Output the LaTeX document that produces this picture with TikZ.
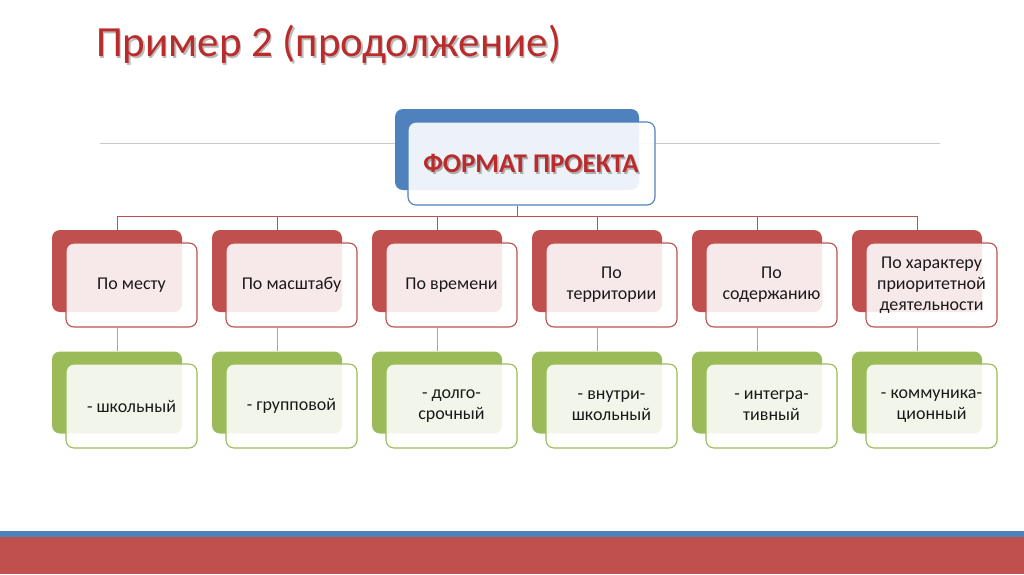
\documentclass[tikz,border=0pt]{standalone}
\usepackage{fontspec}
\setmainfont{Carlito}
\definecolor{accRed}{HTML}{C0504D}
\definecolor{accGreen}{HTML}{9BBB59}
\definecolor{accBlue}{HTML}{4F81BD}
\definecolor{titleRed}{RGB}{186,44,44}
\definecolor{lineGray}{HTML}{C8C8C8}
\definecolor{txt}{HTML}{1A1A1A}
\tikzset{
  backbox/.style={rounded corners=8pt, inner sep=0pt, minimum width=130pt, minimum height=82pt, draw=none},
  frontbox/.style={rounded corners=8pt, inner sep=0pt, minimum width=131pt, minimum height=84pt, line width=1.1pt, fill=white, fill opacity=0.88, text opacity=1, align=center, font=\fontsize{18}{21}\selectfont, text=txt},
  redback/.style={backbox, fill=accRed},
  greenback/.style={backbox, fill=accGreen},
  redfront/.style={frontbox, draw=accRed},
  greenfront/.style={frontbox, draw=accGreen},
  redlink/.style={draw=accRed, line width=1pt},
  greenlink/.style={draw=accGreen, line width=1pt},
}
\begin{document}
\begin{tikzpicture}[x=1pt,y=-1pt]
\useasboundingbox (0,0) rectangle (1024,574);
% bottom stripes
\fill[accBlue] (0,531) rectangle (1024,537);
\fill[accRed] (0,537) rectangle (1024,574);
% title
\node[font=\fontsize{43}{45}\selectfont, text=black!45, opacity=0.6] (titleshadow) at (330,46.5) {Пример 2 (продолжение)};
\node[font=\fontsize{43}{45}\selectfont, text=titleRed] (title) at (328.5,44.5) {Пример 2 (продолжение)};
% gray line
\coordinate (gl) at (100,143);
\coordinate (gr) at (940,143);
\draw[lineGray, line width=0.8pt] (gl) -- (gr);
% top box
\node[rounded corners=8pt, fill=accBlue, inner sep=0pt, minimum width=244pt, minimum height=81pt] (topback) at (517,149.5) {};
\node[rounded corners=8pt, draw=accBlue, line width=1.1pt, fill=white, fill opacity=0.9, inner sep=0pt, minimum width=247pt, minimum height=83pt] (topfront) at (531.5,163.5) {};
\node[font=\bfseries\fontsize{27}{29}\selectfont, text=black!50, opacity=0.6] (topshadow) at (532.5,165) {ФОРМАТ ПРОЕКТА};
\node[font=\bfseries\fontsize{27}{29}\selectfont, text=titleRed] (toptext) at (531,163) {ФОРМАТ ПРОЕКТА};
% columns
\foreach \i/\rt/\gt in {
  1/{По месту}/{- школьный},
  2/{По масштабу}/{- групповой},
  3/{По времени}/{- долго-\\срочный},
  4/{По\\территории}/{- внутри-\\школьный},
  5/{По\\содержанию}/{- интегра-\\тивный},
  6/{По характеру\\приоритетной\\деятельности}/{- коммуника-\\ционный}} {
  \pgfmathsetmacro{\cx}{117+160*(\i-1)}
  \node[redback] (rb\i) at (\cx,271) {};
  \node[greenback] (gb\i) at (\cx,392.5) {};
  \node[redfront] (rf\i) at (\cx+14.5,285) {\rt};
  \node[greenfront] (gf\i) at (\cx+14.5,406) {\gt};
}
% connectors
\coordinate (bus) at (517,216);
\draw[redlink] (topfront.south -| topback.south) -- (bus);
\draw[redlink] (rb1.north |- bus) -- (rb6.north |- bus);
\foreach \i in {1,...,6} {
  \draw[redlink] (rb\i.north |- bus) -- (rb\i.north);
  \draw[greenlink] (rf\i.south -| rb\i.south) -- (gb\i.north);
}
\end{tikzpicture}
\end{document}
